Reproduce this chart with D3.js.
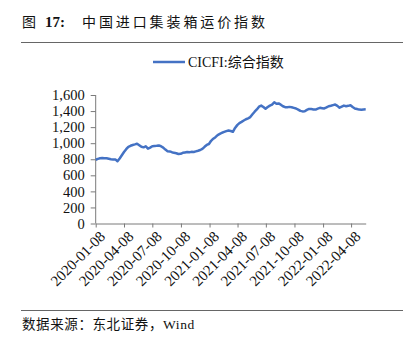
<!DOCTYPE html>
<html>
<head>
<meta charset="utf-8">
<script src="https://cdn.jsdelivr.net/npm/d3@7"></script>
<style>
  html, body { margin: 0; padding: 0; background: #fff; }
  svg { display: block; }
  .serif { font-family: "Liberation Serif", "Noto Sans CJK SC", serif; }
</style>
</head>
<body>
<svg id="chart" width="409" height="344"></svg>
<script>
// CICFI composite index, weekly readings starting 2020-01-08
const startDate = "2020-01-08";
const cicfi = [
  794, 805, 812, 815, 814, 812, 806, 800, 796, 798,
  775, 810, 850, 890, 925, 955, 968, 978, 985, 994,
  975, 955, 948, 962, 932, 945, 962, 965, 968, 972,
  962, 945, 920, 900, 898, 888, 880, 875, 866, 868,
  880, 885, 890, 886, 892, 890, 898, 906, 915, 930,
  955, 978, 990, 1030, 1056, 1075, 1100, 1115, 1130, 1140,
  1150, 1158, 1152, 1142, 1190, 1225, 1250, 1265, 1282, 1298,
  1310, 1325, 1360, 1392, 1420, 1455, 1468, 1450, 1428, 1450,
  1468, 1480, 1510, 1492, 1495, 1480, 1460, 1448, 1448, 1452,
  1448, 1440, 1432, 1418, 1402, 1396, 1398, 1415, 1427, 1425,
  1420, 1418, 1430, 1440, 1436, 1432, 1445, 1460, 1466, 1474,
  1481, 1465, 1442, 1455, 1468, 1460, 1465, 1472, 1450, 1432,
  1425, 1418, 1416, 1420, 1422
];
const xTickLabels = [
  "2020-01-08", "2020-04-08", "2020-07-08", "2020-10-08", "2021-01-08",
  "2021-04-08", "2021-07-08", "2021-10-08", "2022-01-08", "2022-04-08"
];
const yTickValues = [0, 200, 400, 600, 800, 1000, 1200, 1400, 1600];
const seriesName = "CICFI:综合指数";
const titleNo = "17:";
const titleText = "中国进口集装箱运价指数";
const sourceText = "数据来源：东北证券，Wind";

const parse = d3.timeParse("%Y-%m-%d");
const t0 = parse(startDate);
const data = cicfi.map((v, i) => ({ date: d3.timeDay.offset(t0, i * 7), value: v }));

const svg = d3.select("#chart");
const axisColor = "#7a7a7a";

const x = d3.scaleTime()
  .domain([t0, data[data.length - 1].date])
  .range([95.7, 365.7]);
const y = d3.scaleLinear().domain([0, 1600]).range([223.5, 95]);

// Title and rules
const title = svg.append("g").attr("class", "serif").attr("fill", "#111");
title.append("text").attr("x", 22).attr("y", 27).attr("font-size", 14).text("图");
title.append("text").attr("x", 45).attr("y", 27).attr("font-size", 15)
  .attr("font-weight", "bold").text(titleNo);
title.append("text").attr("x", 82).attr("y", 27).attr("font-size", 14)
  .attr("letter-spacing", 2.9).text(titleText);
svg.append("line").attr("x1", 21).attr("x2", 403).attr("y1", 42.5).attr("y2", 42.5)
  .attr("stroke", "#666").attr("stroke-width", 1.2);

// Legend
svg.append("line").attr("x1", 153).attr("x2", 185).attr("y1", 62).attr("y2", 62)
  .attr("stroke", "#4472C4").attr("stroke-width", 2.5);
svg.append("text").attr("class", "serif").attr("x", 188).attr("y", 66.5)
  .attr("font-size", 14).attr("fill", "#111").text(seriesName);

// Y axis
const yAxis = svg.append("g").attr("transform", "translate(95.7,0)")
  .call(d3.axisLeft(y).tickValues(yTickValues).tickSize(5).tickPadding(6)
    .tickFormat(d3.format(",")));
yAxis.select(".domain").attr("stroke", axisColor).attr("d", `M-0.0,${y(1600)}V${y(0)}`);
yAxis.selectAll(".tick line").attr("stroke", axisColor);
yAxis.selectAll("text").attr("class", "serif").attr("font-size", 14.5).attr("fill", "#111")
  .attr("font-family", "Liberation Serif, serif");

// X axis
const xTicks = xTickLabels.map(parse);
const xAxis = svg.append("g").attr("transform", `translate(0,${y(0)})`)
  .call(d3.axisBottom(x).tickValues(xTicks).tickSize(4).tickSizeOuter(0)
    .tickFormat(d3.timeFormat("%Y-%m-%d")));
xAxis.select(".domain").attr("stroke", axisColor);
xAxis.selectAll(".tick line").attr("stroke", axisColor);
xAxis.selectAll("text")
  .attr("font-family", "Liberation Serif, serif").attr("font-size", 15).attr("fill", "#111")
  .attr("text-anchor", "end")
  .attr("dy", 0)
  .attr("transform", "translate(5,9) rotate(-45)");

// Series line
svg.append("path").datum(data)
  .attr("fill", "none")
  .attr("stroke", "#4472C4")
  .attr("stroke-width", 2.5)
  .attr("stroke-linejoin", "round")
  .attr("d", d3.line().x(d => x(d.date)).y(d => y(d.value)));

// Source note
svg.append("line").attr("x1", 21).attr("x2", 403).attr("y1", 310.5).attr("y2", 310.5)
  .attr("stroke", "#666").attr("stroke-width", 1.2);
svg.append("text").attr("class", "serif").attr("x", 22).attr("y", 328.5)
  .attr("font-size", 13.5).attr("fill", "#111").attr("letter-spacing", 0.6).text(sourceText);
</script>
</body>
</html>
